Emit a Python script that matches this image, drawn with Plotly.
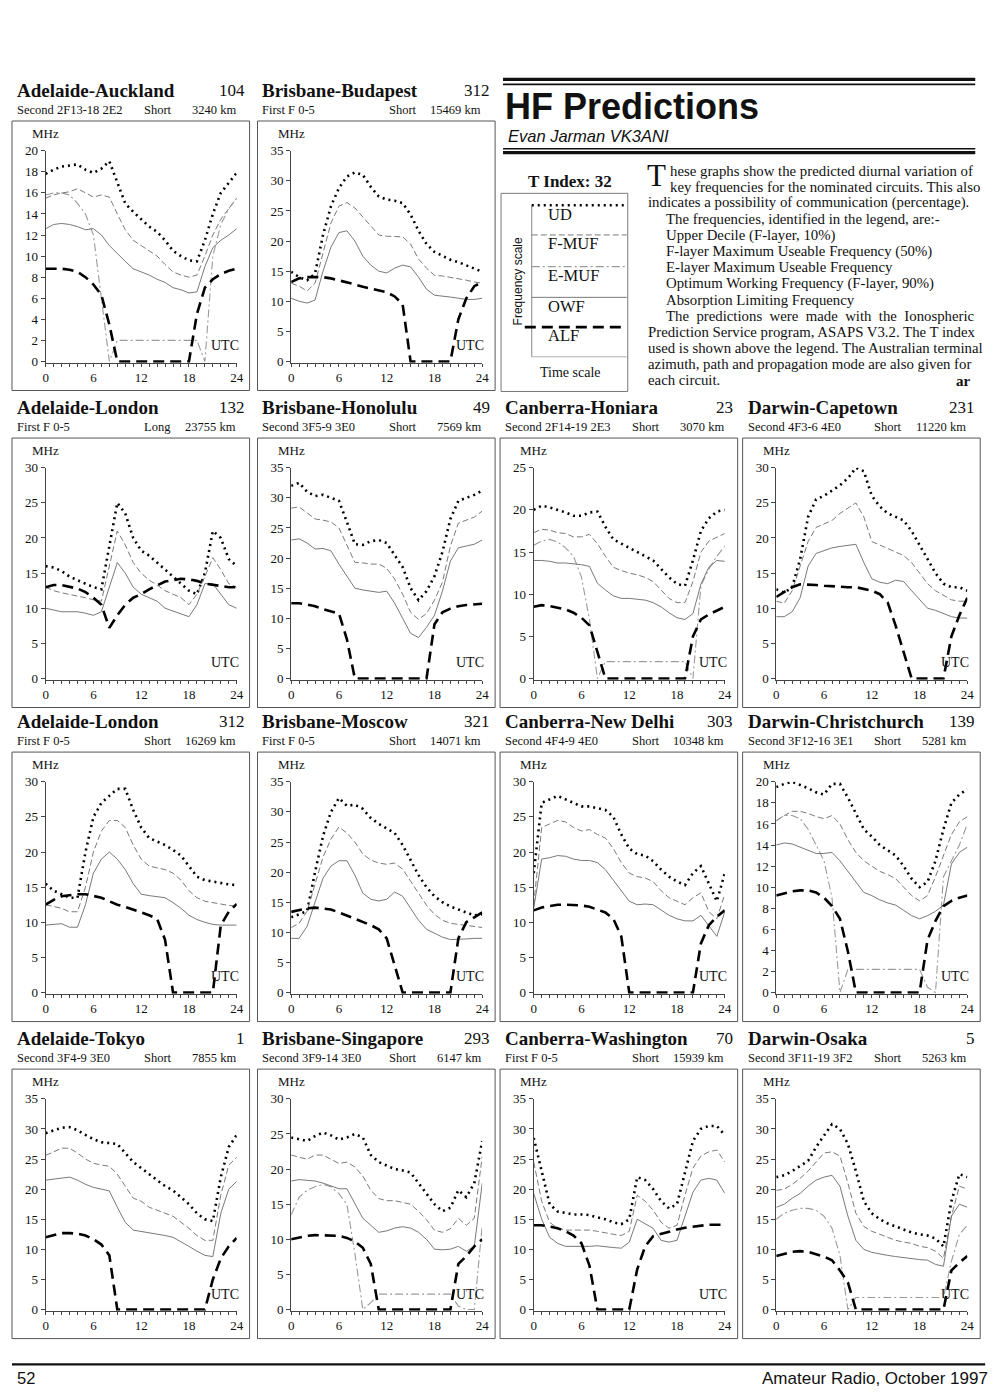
import plotly.graph_objects as go

hours = list(range(25))

# ---- panel headings
titles = ["Adelaide-Auckland", "Brisbane-Budapest",
          "Adelaide-London", "Brisbane-Honolulu", "Canberra-Honiara", "Darwin-Capetown",
          "Adelaide-London", "Brisbane-Moscow", "Canberra\u2011New Delhi", "Darwin-Christchurch",
          "Adelaide-Tokyo", "Brisbane-Singapore", "Canberra-Washington", "Darwin-Osaka"]
azimuths = ["104", "312", "132", "49", "23", "231", "312", "321", "303", "139", "1", "293", "70", "5"]
modes = ["Second 2F13-18 2E2", "First F 0-5", "First F 0-5", "Second 3F5-9 3E0",
         "Second 2F14-19 2E3", "Second 4F3-6 4E0", "First F 0-5", "First F 0-5",
         "Second 4F4-9 4E0", "Second 3F12-16 3E1", "Second 3F4-9 3E0", "Second 3F9-14 3E0",
         "First F 0-5", "Second 3F11-19 3F2"]
paths = ["Short", "Short", "Long", "Short", "Short", "Short", "Short", "Short",
         "Short", "Short", "Short", "Short", "Short", "Short"]
distances = ["3240", "15469", "23755", "7569", "3070", "11220", "16269", "14071",
             "10348", "5281", "7855", "6147", "15939", "5263"]
y_max = [20, 35, 30, 35, 25, 30, 30, 35, 30, 20, 35, 30, 35, 35]
y_step = [2, 5, 5, 5, 5, 5, 5, 5, 5, 2, 5, 5, 5, 5]

# ---- hourly values, MHz (UD, F-MUF, E-MUF, OWF, ALF)
akl_ud = [17.8, 18.2, 18.5, 18.6, 18.7, 18.2, 17.9, 18.3, 19.0, 17.0, 15.0, 14.2, 13.5, 12.8, 12.3, 11.5, 10.5, 10.0, 9.6, 9.5, 11.5, 14.0, 16.0, 17.0, 17.9]
akl_fmuf = [15.5, 15.8, 16.0, 16.1, 16.4, 16.0, 15.6, 15.8, 15.6, 14.0, 12.5, 11.5, 11.0, 10.5, 10.0, 9.2, 8.5, 8.2, 8.0, 8.2, 10.0, 12.0, 13.5, 14.5, 15.5]
akl_emuf = [15.8, 16.0, 16.0, 15.8, 15.0, 14.0, 12.0, 6.0, 0.0, 2.0, 2.0, 2.0, 2.0, 2.0, 2.0, 2.0, 2.0, 2.0, 2.0, 2.0, 0.0, 10.0, 13.0, 14.5, 15.5]
akl_owf = [12.6, 13.0, 13.1, 13.0, 12.8, 12.5, 12.6, 12.0, 11.0, 10.2, 9.5, 8.8, 8.5, 8.2, 7.8, 7.5, 7.0, 6.8, 6.5, 6.6, 9.0, 10.8, 11.5, 12.0, 12.6]
akl_alf = [8.8, 8.8, 8.8, 8.7, 8.5, 8.0, 7.3, 6.3, 3.5, 0.0, 0, 0, 0, 0, 0, 0, 0, 0, 0, 4.5, 7.0, 7.8, 8.3, 8.6, 8.8]

bud_ud = [14.9, 14.0, 13.5, 14.6, 21.0, 25.8, 28.8, 30.7, 31.4, 31.0, 29.0, 27.4, 26.9, 26.7, 26.3, 24.4, 21.7, 19.5, 18.2, 17.5, 16.9, 16.5, 16.0, 15.5, 14.9]
bud_fmuf = [13.0, 12.5, 11.7, 13.0, 18.0, 23.0, 25.8, 26.4, 25.5, 24.0, 22.5, 21.0, 20.8, 20.8, 20.7, 19.5, 17.0, 15.5, 14.3, 14.2, 14.0, 13.8, 13.5, 13.2, 13.0]
bud_owf = [10.5, 10.0, 9.7, 10.2, 15.0, 19.0, 21.4, 21.7, 20.0, 17.5, 16.0, 15.0, 14.7, 15.5, 16.0, 15.7, 14.0, 12.0, 11.0, 10.9, 10.7, 10.5, 10.3, 10.3, 10.5]
bud_alf = [13.2, 13.8, 14.0, 14.0, 14.0, 13.8, 13.5, 13.2, 12.8, 12.4, 12.1, 11.8, 11.5, 10.8, 9.5, 0.0, 0, 0, 0, 0, 0.0, 7.0, 10.5, 12.5, 13.2]

lon1_ud = [16.0, 15.8, 15.3, 14.5, 14.0, 13.5, 13.0, 12.7, 19.0, 25.0, 23.5, 20.0, 18.2, 17.5, 16.5, 15.5, 14.5, 13.5, 12.5, 12.0, 15.0, 21.0, 20.0, 17.0, 16.0]
lon1_fmuf = [13.0, 12.5, 12.2, 12.0, 11.8, 11.5, 11.2, 11.0, 16.0, 21.0, 19.0, 16.5, 15.0, 14.0, 13.3, 12.5, 12.0, 11.5, 10.5, 12.0, 14.5, 17.2, 15.5, 13.5, 13.0]
lon1_owf = [10.0, 9.7, 9.5, 9.5, 9.5, 9.3, 9.0, 9.5, 13.0, 16.5, 15.0, 13.0, 12.0, 11.5, 11.0, 10.0, 9.6, 9.3, 8.8, 10.5, 13.5, 13.5, 12.0, 10.5, 10.0]
lon1_alf = [13.0, 13.3, 13.3, 13.0, 12.8, 12.3, 11.5, 10.5, 7.2, 9.0, 10.5, 11.5, 12.0, 12.7, 13.3, 13.8, 14.0, 14.2, 14.1, 13.9, 13.5, 13.3, 13.1, 13.0, 13.0]

hnl_ud = [32.0, 32.5, 31.0, 30.3, 30.5, 30.0, 29.5, 26.0, 22.3, 22.2, 22.8, 23.0, 22.5, 20.5, 18.5, 15.0, 13.0, 14.5, 17.0, 21.0, 26.5, 29.5, 30.0, 30.5, 31.2]
hnl_fmuf = [28.3, 28.5, 27.5, 26.5, 26.3, 26.0, 25.0, 22.0, 19.3, 19.2, 19.0, 19.0, 18.3, 16.5, 14.0, 11.0, 9.8, 10.8, 13.0, 16.0, 22.0, 25.8, 26.3, 26.8, 27.8]
hnl_owf = [23.0, 23.2, 22.5, 21.5, 21.6, 21.2, 19.0, 17.0, 15.0, 14.7, 14.5, 14.3, 14.5, 12.5, 10.0, 7.5, 6.8, 8.5, 10.5, 14.5, 19.5, 21.7, 22.0, 22.3, 23.0]
hnl_alf = [12.5, 12.5, 12.3, 12.0, 11.5, 11.2, 10.8, 6.5, 0.0, 0, 0, 0, 0, 0, 0, 0, 0, 0.0, 9.0, 11.0, 11.6, 12.0, 12.2, 12.3, 12.4]

hir_ud = [20.0, 20.5, 20.3, 20.0, 19.7, 19.3, 19.3, 19.7, 19.8, 18.0, 16.5, 16.0, 15.5, 15.0, 14.5, 14.0, 13.0, 12.0, 11.2, 11.0, 14.0, 17.5, 19.0, 19.8, 20.0]
hir_fmuf = [17.3, 17.7, 17.6, 17.3, 17.2, 16.8, 16.8, 17.1, 16.0, 14.5, 13.2, 12.8, 12.5, 12.3, 12.0, 11.5, 10.5, 9.5, 9.0, 9.0, 11.5, 15.0, 16.3, 16.8, 17.2]
hir_emuf = [15.8, 16.3, 16.5, 16.2, 15.5, 14.5, 12.0, 7.0, 0.0, 2.0, 2.0, 2.0, 2.0, 2.0, 2.0, 2.0, 2.0, 2.0, 2.0, 2.0, 0.0, 11.0, 13.0, 14.5, 15.7]
hir_owf = [14.0, 14.0, 13.9, 13.7, 13.7, 13.6, 13.5, 13.3, 11.3, 10.5, 9.8, 9.5, 9.5, 9.4, 9.3, 9.0, 8.5, 7.8, 7.2, 7.0, 7.7, 11.2, 13.2, 14.0, 13.9]
hir_alf = [8.5, 8.7, 8.6, 8.4, 8.2, 7.8, 7.2, 6.3, 3.0, 0.0, 0, 0, 0, 0, 0, 0, 0, 0, 0, 0.0, 5.0, 7.0, 7.6, 8.1, 8.5]

cpt_ud = [12.7, 12.2, 13.0, 17.0, 23.0, 25.5, 26.0, 26.8, 27.5, 28.5, 30.0, 29.5, 26.0, 24.5, 23.5, 23.0, 22.5, 21.0, 19.0, 17.0, 15.0, 13.5, 13.0, 13.0, 12.5]
cpt_fmuf = [11.0, 10.7, 12.5, 16.0, 19.5, 21.5, 22.0, 22.5, 23.5, 24.3, 25.0, 23.0, 19.5, 19.0, 18.5, 18.0, 17.5, 16.5, 15.0, 13.5, 12.5, 11.8, 11.2, 11.0, 11.0]
cpt_owf = [8.8, 8.8, 9.5, 11.5, 16.0, 17.8, 18.2, 18.6, 18.8, 19.0, 19.1, 16.5, 14.2, 13.7, 13.5, 14.0, 13.8, 12.5, 11.3, 10.0, 9.7, 9.2, 8.8, 8.6, 8.6]
cpt_alf = [11.6, 12.3, 13.0, 13.4, 13.4, 13.3, 13.2, 13.1, 13.0, 13.0, 13.0, 12.8, 12.5, 12.0, 10.8, 7.5, 3.8, 0.0, 0, 0, 0, 0.0, 6.0, 9.0, 11.5]

lon2_ud = [15.5, 14.5, 14.0, 13.5, 13.5, 20.0, 25.0, 27.0, 28.0, 29.0, 29.0, 26.0, 23.5, 22.0, 21.5, 21.0, 20.3, 19.5, 18.0, 16.5, 16.0, 15.8, 15.5, 15.4, 15.3]
lon2_fmuf = [12.5, 12.3, 12.0, 11.5, 11.5, 15.0, 20.0, 23.0, 24.5, 24.5, 23.5, 21.0, 19.0, 18.0, 17.8, 17.5, 17.0, 16.0, 14.5, 13.5, 13.0, 12.8, 12.5, 12.4, 12.3]
lon2_owf = [9.6, 9.7, 9.8, 9.3, 9.3, 12.5, 17.0, 19.0, 20.0, 19.0, 17.5, 15.5, 14.0, 13.8, 13.6, 13.5, 12.8, 12.0, 11.0, 10.4, 10.0, 9.7, 9.6, 9.6, 9.6]
lon2_alf = [12.5, 13.2, 13.7, 13.9, 14.0, 14.0, 13.8, 13.5, 13.0, 12.5, 12.2, 11.8, 11.5, 11.0, 10.5, 7.5, 0.0, 0, 0, 0, 0, 0.0, 9.6, 11.5, 12.6]

mow_ud = [12.5, 13.0, 13.5, 20.0, 26.0, 30.0, 32.3, 31.0, 31.2, 30.5, 29.0, 28.0, 27.3, 26.5, 24.5, 22.0, 19.5, 17.5, 16.0, 15.0, 14.3, 13.8, 13.3, 12.8, 13.0]
mow_fmuf = [10.8, 11.5, 13.5, 18.0, 22.5, 25.5, 27.5, 26.5, 25.0, 23.0, 22.0, 21.5, 21.3, 21.5, 20.5, 18.5, 16.5, 14.5, 13.0, 12.0, 11.5, 11.3, 11.2, 11.0, 10.8]
mow_owf = [9.0, 9.0, 11.0, 15.0, 19.0, 21.0, 21.9, 21.9, 19.5, 16.5, 15.5, 15.2, 15.5, 16.7, 16.0, 14.0, 12.0, 10.5, 9.8, 9.2, 8.8, 8.8, 8.9, 9.0, 9.0]
mow_alf = [13.4, 13.7, 14.0, 14.1, 14.0, 13.8, 13.3, 12.8, 12.3, 11.8, 11.2, 10.5, 9.0, 4.5, 0.0, 0, 0, 0, 0, 0, 0.0, 9.0, 11.7, 12.5, 13.3]

del_ud = [17.0, 27.0, 27.5, 28.0, 27.5, 27.0, 26.5, 26.5, 26.2, 26.0, 25.0, 22.5, 20.5, 19.7, 19.5, 18.7, 17.5, 16.5, 15.8, 15.3, 17.0, 18.0, 15.5, 13.0, 17.0]
del_fmuf = [12.5, 23.5, 24.0, 24.5, 24.3, 23.5, 23.0, 23.2, 22.5, 22.0, 20.5, 18.5, 17.0, 16.5, 16.3, 15.8, 14.5, 13.5, 13.0, 12.5, 13.5, 14.2, 11.5, 10.5, 14.0]
del_owf = [12.0, 19.0, 19.2, 19.5, 19.4, 19.0, 18.8, 18.8, 18.5, 17.5, 16.0, 14.5, 13.0, 12.5, 12.6, 12.5, 11.8, 11.0, 10.5, 10.2, 10.2, 11.0, 9.5, 8.0, 11.5]
del_alf = [11.7, 12.1, 12.3, 12.5, 12.5, 12.5, 12.4, 12.2, 11.8, 11.4, 10.5, 8.0, 0.0, 0, 0, 0, 0, 0, 0, 0, 0.0, 7.0, 9.6, 10.8, 11.7]

chc_ud = [19.5, 19.8, 20.0, 19.7, 19.4, 19.0, 18.8, 19.8, 19.8, 18.5, 17.0, 15.5, 14.8, 14.0, 13.5, 13.0, 12.0, 10.8, 10.0, 10.5, 12.5, 15.5, 18.0, 18.8, 19.3]
chc_fmuf = [16.3, 16.8, 17.2, 17.2, 17.0, 16.7, 16.5, 16.8, 16.0, 14.5, 13.3, 12.5, 12.0, 11.5, 11.2, 10.8, 10.0, 9.2, 8.7, 9.2, 11.0, 13.0, 15.0, 16.2, 16.7]
chc_emuf = [16.3, 16.8, 16.8, 16.5, 15.5, 14.0, 12.5, 9.0, 0.0, 2.2, 2.2, 2.2, 2.2, 2.2, 2.2, 2.2, 2.2, 2.2, 2.2, 0.5, 0.0, 11.0, 12.5, 14.0, 16.0]
chc_owf = [14.0, 14.2, 14.1, 13.8, 13.5, 13.2, 13.2, 13.3, 12.5, 11.5, 10.5, 9.5, 9.2, 8.8, 8.5, 8.3, 7.8, 7.3, 7.0, 7.3, 7.7, 8.3, 12.2, 13.3, 13.8]
chc_alf = [9.2, 9.4, 9.6, 9.7, 9.7, 9.5, 9.0, 8.2, 7.0, 3.9, 0.0, 0, 0, 0, 0, 0, 0, 0, 0.0, 5.0, 6.8, 8.2, 8.7, 9.0, 9.2]

tyo_ud = [29.3, 29.8, 30.2, 30.3, 29.8, 29.0, 28.3, 27.8, 27.6, 27.5, 26.0, 24.5, 23.5, 22.5, 21.5, 20.5, 19.8, 18.7, 17.5, 16.0, 15.0, 14.7, 22.0, 27.0, 29.0]
tyo_fmuf = [25.6, 26.2, 26.8, 26.8, 26.0, 25.0, 24.3, 24.0, 23.8, 22.5, 20.5, 18.5, 18.0, 17.0, 16.5, 16.0, 15.5, 14.5, 13.5, 12.3, 11.5, 11.5, 19.0, 24.0, 25.3]
tyo_owf = [21.5, 21.7, 21.8, 22.0, 21.5, 20.8, 20.3, 20.0, 19.7, 17.0, 14.5, 13.2, 13.0, 12.8, 12.6, 12.3, 12.0, 11.3, 10.5, 9.7, 9.0, 8.8, 16.0, 20.0, 21.3]
tyo_alf = [12.0, 12.4, 12.7, 12.7, 12.6, 12.3, 11.7, 10.8, 9.0, 0.0, 0, 0, 0, 0, 0, 0, 0, 0, 0, 0, 0.0, 5.0, 8.5, 10.5, 11.9]

sin_ud = [24.5, 24.2, 24.0, 24.7, 25.2, 24.8, 24.2, 24.5, 25.0, 24.5, 22.0, 21.0, 20.5, 20.0, 19.8, 19.5, 18.0, 16.5, 15.0, 14.0, 14.5, 17.0, 16.0, 18.0, 24.0]
sin_fmuf = [22.0, 21.7, 21.4, 22.0, 22.0, 21.4, 20.8, 21.0, 20.3, 19.0, 17.0, 15.8, 15.5, 15.5, 15.3, 15.0, 14.0, 12.8, 11.3, 11.0, 11.5, 13.0, 12.0, 13.0, 21.8]
sin_emuf = [13.5, 16.0, 17.0, 17.5, 17.8, 17.5, 16.5, 15.0, 8.0, 0.0, 1.0, 2.2, 2.2, 2.2, 2.2, 2.2, 2.2, 2.2, 2.2, 2.2, 2.2, 0.5, 0.0, 0.0, 12.0]
sin_owf = [18.3, 18.5, 18.4, 18.3, 18.0, 17.6, 17.2, 17.2, 15.0, 13.0, 12.0, 11.0, 11.2, 11.6, 11.8, 11.6, 11.0, 10.0, 8.6, 8.5, 8.6, 9.0, 8.3, 9.0, 18.0]
sin_alf = [10.0, 10.3, 10.5, 10.6, 10.6, 10.6, 10.5, 10.2, 9.7, 8.8, 6.5, 0.0, 0, 0, 0, 0, 0, 0, 0, 0, 0.0, 6.5, 7.6, 9.0, 10.0]

was_ud = [28.5, 23.0, 17.5, 16.3, 16.0, 15.8, 15.8, 15.7, 15.3, 15.0, 14.5, 14.2, 15.0, 22.0, 21.5, 20.0, 18.0, 16.8, 17.5, 23.0, 28.0, 30.0, 30.5, 30.5, 29.0]
was_fmuf = [24.5, 18.0, 14.5, 13.5, 13.2, 13.2, 13.1, 13.2, 13.0, 12.7, 12.5, 12.3, 13.0, 19.0, 18.0, 16.5, 14.5, 13.5, 14.0, 19.0, 23.5, 25.5, 26.2, 26.5, 24.5]
was_owf = [19.3, 15.0, 12.0, 11.0, 10.5, 10.5, 10.4, 10.5, 10.6, 10.4, 10.3, 10.2, 11.2, 15.0, 14.2, 13.5, 11.5, 11.2, 11.5, 15.5, 19.5, 21.5, 21.8, 21.5, 19.3]
was_alf = [14.0, 14.0, 13.8, 13.5, 13.0, 12.3, 11.0, 7.3, 0.0, 0, 0, 0, 0.0, 6.7, 10.5, 12.2, 12.6, 13.0, 13.3, 13.6, 13.8, 14.0, 14.1, 14.1, 14.1]

osa_ud = [22.0, 22.3, 23.0, 23.8, 24.7, 27.0, 29.0, 30.8, 30.0, 27.5, 23.0, 18.0, 16.0, 15.0, 14.3, 13.8, 13.2, 12.8, 12.5, 12.3, 11.8, 10.5, 18.0, 22.5, 22.0]
osa_fmuf = [19.8, 20.0, 20.8, 21.8, 23.0, 24.5, 26.0, 26.2, 25.5, 21.0, 16.0, 13.8, 13.0, 12.5, 12.0, 11.5, 11.2, 11.0, 10.5, 10.3, 9.7, 8.5, 15.5, 20.5, 20.0]
osa_emuf = [15.0, 16.0, 16.5, 16.8, 16.8, 16.5, 15.5, 13.5, 9.0, 0.0, 2.0, 2.0, 2.0, 2.0, 2.0, 2.0, 2.0, 2.0, 2.0, 2.0, 2.0, 2.0, 8.0, 12.5, 14.0]
osa_owf = [17.0, 17.5, 18.5, 19.3, 20.5, 21.5, 22.0, 22.3, 20.5, 15.5, 11.5, 10.0, 9.5, 9.2, 9.0, 8.8, 8.6, 8.5, 8.3, 8.2, 7.5, 7.2, 15.5, 17.5, 17.0]
osa_alf = [8.9, 9.3, 9.6, 9.7, 9.6, 9.2, 8.8, 8.2, 6.5, 4.5, 0.0, 0, 0, 0, 0, 0, 0, 0, 0, 0, 0, 0.0, 6.5, 7.8, 8.9]

panel_series = [
    (akl_ud, akl_fmuf, akl_emuf, akl_owf, akl_alf),
    (bud_ud, bud_fmuf, None, bud_owf, bud_alf),
    (lon1_ud, lon1_fmuf, None, lon1_owf, lon1_alf),
    (hnl_ud, hnl_fmuf, None, hnl_owf, hnl_alf),
    (hir_ud, hir_fmuf, hir_emuf, hir_owf, hir_alf),
    (cpt_ud, cpt_fmuf, None, cpt_owf, cpt_alf),
    (lon2_ud, lon2_fmuf, None, lon2_owf, lon2_alf),
    (mow_ud, mow_fmuf, None, mow_owf, mow_alf),
    (del_ud, del_fmuf, None, del_owf, del_alf),
    (chc_ud, chc_fmuf, chc_emuf, chc_owf, chc_alf),
    (tyo_ud, tyo_fmuf, None, tyo_owf, tyo_alf),
    (sin_ud, sin_fmuf, sin_emuf, sin_owf, sin_alf),
    (was_ud, was_fmuf, None, was_owf, was_alf),
    (osa_ud, osa_fmuf, osa_emuf, osa_owf, osa_alf),
]

legend_labels = ["UD", "F-MUF", "E-MUF", "OWF", "ALF"]
body_lines = [
    "hese graphs show the predicted diurnal variation of",
    "key frequencies for the nominated circuits. This also",
    "indicates a possibility of communication (percentage).",
    "The frequencies, identified in the legend, are:-",
    "Upper Decile (F-layer, 10%)",
    "F-layer Maximum Useable Frequency (50%)",
    "E-layer Maximum Useable Frequency",
    "Optimum Working Frequency (F-layer, 90%)",
    "Absorption Limiting Frequency",
    "The  predictions  were  made  with  the  Ionospheric",
    "Prediction Service program, ASAPS V3.2. The T index",
    "used is shown above the legend. The Australian terminal",
    "azimuth, path and propagation mode are also given for",
    "each circuit.",
]

# ---- page layout (pixels on the 1000 x 1400 page; the html body adds 8px)
W, H = 1000, 1400
OFF = 8
SERIF = "Liberation Serif"
SANS = "Liberation Sans"
grid = [(0, 0), (0, 1), (1, 0), (1, 1), (1, 2), (1, 3), (2, 0), (2, 1), (2, 2), (2, 3),
        (3, 0), (3, 1), (3, 2), (3, 3)]
col_left = [9, 257, 502, 747]
row_top = [115, 435, 752, 1072]
BOX_W, BOX_H = 240, 272

line_styles = [
    dict(color="black", width=2.6, dash="2px,4px"),
    dict(color="#7a7a7a", width=1, dash="6px,3px"),
    dict(color="#9a9a9a", width=1.1, dash="8px,3px,2px,3px"),
    dict(color="#6a6a6a", width=0.9),
    dict(color="black", width=2.6, dash="11px,6px"),
]


def px(x):
    return (x - OFF) / W


def py(y):
    return 1 - (y - OFF) / H


fig = go.Figure()
axes = {}
annotations = []
shapes = []


def text(x, y, s, size, family=SERIF, xanchor="left", color="#111", **kw):
    annotations.append(dict(x=px(x), y=py(y), xref="paper", yref="paper", text=s,
                            showarrow=False, xanchor=xanchor, yanchor="middle",
                            font=dict(family=family, size=size, color=color), **kw))


def hline(x0, x1, y, width=1, color="#222", dash=None):
    shapes.append(dict(type="line", xref="paper", yref="paper", x0=px(x0), x1=px(x1),
                       y0=py(y), y1=py(y), line=dict(width=width, color=color, dash=dash)))


for i, series in enumerate(panel_series):
    r, c = grid[i]
    left, top = col_left[c], row_top[r]
    n = "" if i == 0 else str(i + 1)
    x0, x1 = left + 34, left + 227
    y_top, y_bot = top + 30, top + 244
    pad = y_max[i] * 1.3 / (y_bot - y_top)
    axes["xaxis" + n] = dict(domain=[px(x0), px(x1)], anchor="y" + n, range=[0, 24],
                             tickmode="linear", tick0=0, dtick=6, ticks="outside", ticklen=3,
                             tickcolor="#444", showline=True, linecolor="#444", linewidth=1,
                             showgrid=False, zeroline=False,
                             tickfont=dict(family=SERIF, size=13, color="#111"),
                             minor=dict(dtick=1, ticks="outside", ticklen=3, tickcolor="#444"))
    axes["yaxis" + n] = dict(domain=[py(y_bot), py(y_top)], anchor="x" + n,
                             range=[-pad, y_max[i]], tickmode="linear", tick0=0, dtick=y_step[i],
                             ticks="outside", ticklen=4, tickcolor="#444", showline=True,
                             linecolor="#444", linewidth=1, showgrid=False, zeroline=False,
                             tickfont=dict(family=SERIF, size=13, color="#111"))
    for vals, style in zip(series, line_styles):
        if vals is None:
            continue
        fig.add_trace(go.Scatter(x=hours, y=vals, mode="lines", line=style,
                                 xaxis="x" + n, yaxis="y" + n, showlegend=False,
                                 hoverinfo="skip"))

    # frame and labels
    shapes.append(dict(type="rect", xref="paper", yref="paper", x0=px(left), x1=px(left + BOX_W),
                       y0=py(top + BOX_H), y1=py(top), line=dict(color="#555", width=1)))
    text(left + 3, top - 31, "<b>%s</b>" % titles[i], 19)
    text(left + 237, top - 31, azimuths[i], 17, xanchor="right")
    text(left + 3, top - 11, modes[i], 12.5)
    text(left + 131, top - 11, paths[i], 12.5)
    text(left + 228, top - 11, distances[i] + " km", 12.5, xanchor="right")
    text(x0, top + 13, "MHz", 13, xanchor="center")
    text(left + 231, y_bot - 17, "UTC", 14, xanchor="right")

# ---- heading block
hline(505, 982, 73, width=3.2, color="#111")
hline(505, 982, 78, width=1.6, color="#111")
text(505, 100, "<b>HF Predictions</b>", 36, family=SANS)
text(508, 130, "<i>Evan Jarman VK3ANI</i>", 16.5, family=SANS)
hline(505, 982, 143, width=1.6, color="#111")
hline(505, 982, 147, width=3.2, color="#111")

# ---- legend box
text(573, 176, "<b>T Index: 32</b>", 17, xanchor="center")
shapes.append(dict(type="rect", xref="paper", yref="paper", x0=px(503), x1=px(631),
                   y0=py(388), y1=py(188), line=dict(color="#777", width=1)))
shapes.append(dict(type="line", xref="paper", yref="paper", x0=px(534), x1=px(534),
                   y0=py(200), y1=py(353), line=dict(color="#888", width=1)))
legend_y = [200, 230, 262, 293, 323]
legend_x0 = [534, 534, 534, 534, 527]
for lab, ly, lx, style in zip(legend_labels, legend_y, legend_x0, line_styles):
    hline(lx, 630, ly, width=style["width"], color=style["color"], dash=style.get("dash"))
    text(548, ly + 9, lab, 16.5)
hline(534, 630, 353, width=0.8, color="#999")
text(520, 277, "Frequency scale", 12, family=SANS, xanchor="center", textangle=-90)
text(573, 369, "Time scale", 14, xanchor="center")

# ---- article text
text(648, 170, "T", 31)
body_x = [672, 672, 649, 668, 668, 668, 668, 668, 668, 668, 649, 649, 649, 649]
for k, (line, bx) in enumerate(zip(body_lines, body_x)):
    text(bx, 165 + k * 16.3, line, 14.8)
text(980, 377, "<b>ar</b>", 15, xanchor="right")

# ---- footer
hline(9, 992, 1370, width=2.2, color="#111")
text(12, 1384, "52", 16.5, family=SANS)
text(997, 1384, "Amateur Radio, October 1997", 17, family=SANS, xanchor="right")

fig.update_layout(width=W, height=H, margin=dict(l=0, r=0, t=0, b=0),
                  paper_bgcolor="white", plot_bgcolor="white",
                  annotations=annotations, shapes=shapes, **axes)
fig.write_html("out.html")
